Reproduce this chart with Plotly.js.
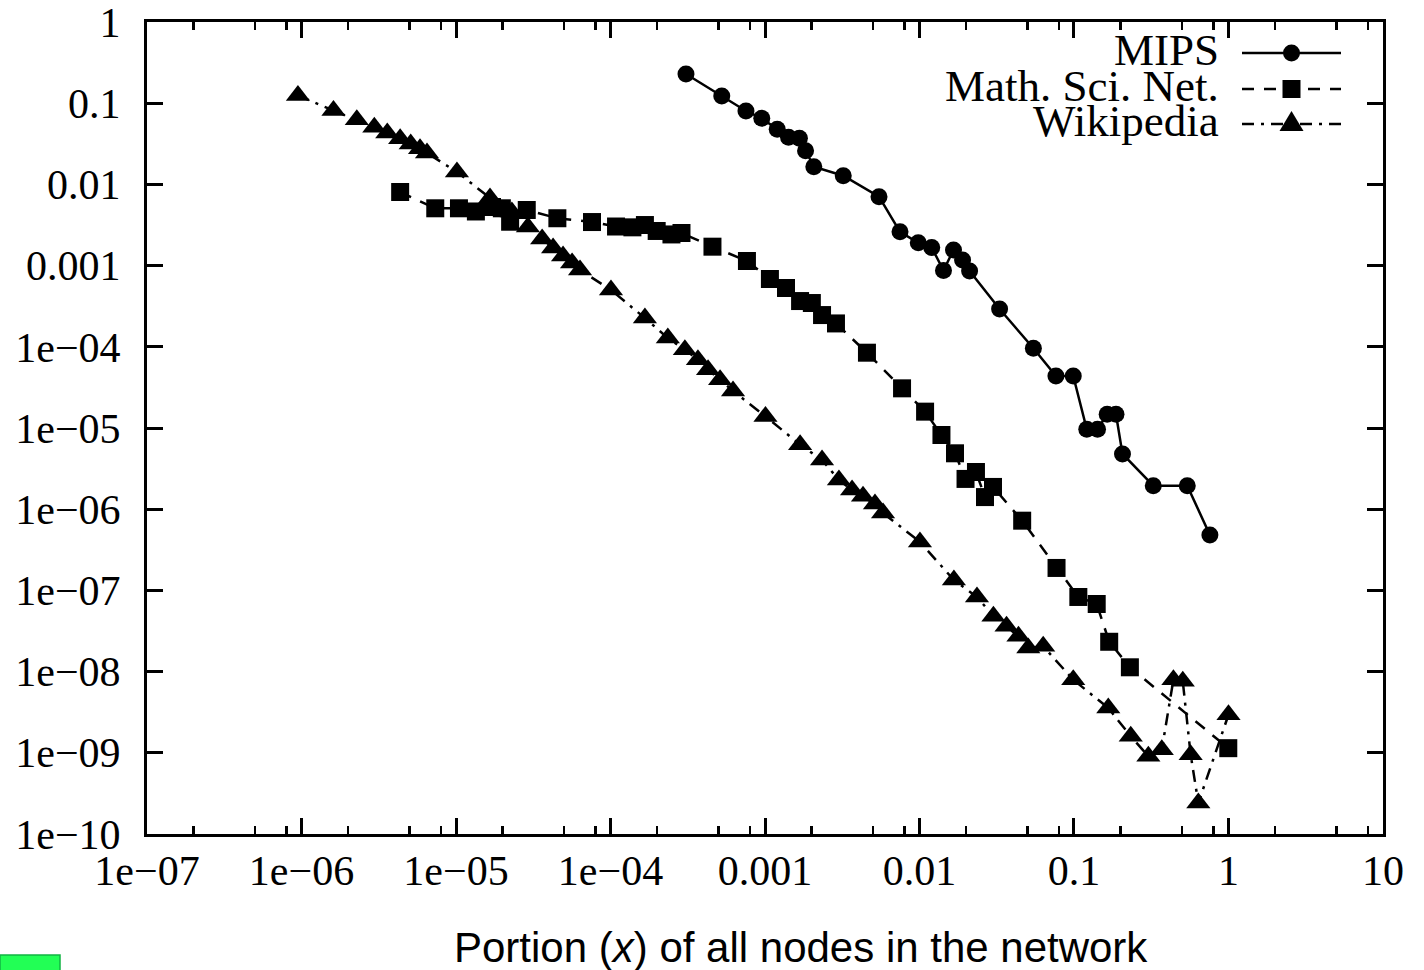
<!DOCTYPE html>
<html>
<head>
<meta charset="utf-8">
<script src="https://cdn.plot.ly/plotly-3.0.1.min.js"></script>
<style>html,body{margin:0;padding:0;background:#fff;}#chart{width:1424px;height:970px;}</style>
</head>
<body>
<div id="chart"></div>
<script>
// ---- data ----
const seriesNames = ["MIPS", "Math. Sci. Net.", "Wikipedia"];

const mipsX = [3.08e-4, 5.25e-4, 7.53e-4, 9.53e-4, 1.20e-3, 1.42e-3, 1.67e-3, 1.83e-3, 2.07e-3, 3.21e-3,
  5.47e-3, 7.48e-3, 9.82e-3, 0.0120, 0.0143, 0.0166, 0.0190, 0.0211, 0.0330, 0.0546,
  0.0764, 0.0989, 0.121, 0.142, 0.164, 0.187, 0.206, 0.326, 0.541, 0.758];
const mipsY = [0.229, 0.123, 0.0802, 0.0652, 0.0477, 0.038, 0.037, 0.026, 0.0165, 0.0128,
  0.00706, 0.00261, 0.00191, 0.00167, 8.7e-4, 0.00156, 0.00117, 8.58e-4, 2.92e-4, 9.59e-5,
  4.37e-5, 4.37e-5, 9.64e-6, 9.64e-6, 1.475e-5, 1.475e-5, 4.79e-6, 1.95e-6, 1.95e-6, 4.81e-7];

const mathX = [4.35e-6, 7.34e-6, 1.045e-5, 1.345e-5, 1.71e-5, 1.98e-5, 2.24e-5, 2.87e-5, 4.53e-5, 7.59e-5,
  1.086e-4, 1.386e-4, 1.67e-4, 1.99e-4, 2.48e-4, 2.88e-4, 4.57e-4, 7.64e-4, 1.076e-3, 1.368e-3,
  1.687e-3, 2.01e-3, 2.34e-3, 2.88e-3, 4.57e-3, 7.71e-3, 0.01087, 0.01387, 0.01698, 0.01986,
  0.0232, 0.02655, 0.0299, 0.0462, 0.0771, 0.1067, 0.1403, 0.169, 0.230, 0.997];
const mathY = [8.06e-3, 5.08e-3, 5.08e-3, 4.64e-3, 5.27e-3, 5.08e-3, 3.47e-3, 4.84e-3, 3.83e-3, 3.44e-3,
  3.03e-3, 2.96e-3, 3.16e-3, 2.67e-3, 2.42e-3, 2.52e-3, 1.71e-3, 1.14e-3, 6.84e-4, 5.30e-4,
  3.66e-4, 3.46e-4, 2.46e-4, 1.94e-4, 8.46e-5, 3.08e-5, 1.59e-5, 8.2e-6, 4.88e-6, 2.36e-6,
  2.87e-6, 1.41e-6, 1.88e-6, 7.22e-7, 1.89e-7, 8.3e-8, 6.8e-8, 2.33e-8, 1.13e-8, 1.14e-9];

const wikiX = [9.48e-7, 1.61e-6, 2.28e-6, 2.96e-6, 3.59e-6, 4.35e-6, 5.09e-6, 5.85e-6, 6.49e-6, 1.014e-5,
  1.66e-5, 2.30e-5, 2.92e-5, 3.61e-5, 4.25e-5, 4.93e-5, 5.64e-5, 6.35e-5, 1.007e-4, 1.67e-4,
  2.35e-4, 3.03e-4, 3.68e-4, 4.28e-4, 5.12e-4, 6.21e-4, 1.007e-3, 1.687e-3, 2.34e-3, 3.01e-3,
  3.66e-3, 4.31e-3, 5.15e-3, 5.81e-3, 0.01007, 0.0167, 0.02355, 0.0301, 0.0366, 0.0437,
  0.0506, 0.0632, 0.0989, 0.1667, 0.233, 0.303, 0.370, 0.440, 0.506, 0.569, 0.638, 1.0];
const wikiY = [0.1244, 0.0813, 0.0626, 0.0505, 0.0430, 0.0366, 0.0315, 0.0275, 0.0244, 0.01422,
  6.80e-3, 4.57e-3, 2.99e-3, 2.13e-3, 1.65e-3, 1.31e-3, 1.08e-3, 8.83e-4, 5.01e-4, 2.26e-4,
  1.28e-4, 9.2e-5, 6.94e-5, 5.22e-5, 3.94e-5, 2.86e-5, 1.39e-5, 6.23e-6, 4.04e-6, 2.29e-6,
  1.72e-6, 1.44e-6, 1.16e-6, 8.98e-7, 3.95e-7, 1.34e-7, 8.3e-8, 4.8e-8, 3.61e-8, 2.72e-8,
  1.95e-8, 2.05e-8, 7.94e-9, 3.56e-9, 1.60e-9, 9.06e-10, 1.09e-9, 7.94e-9, 7.6e-9, 9.48e-10,
  2.41e-10, 2.94e-9];

const xTickVals = [1e-7, 1e-6, 1e-5, 1e-4, 1e-3, 1e-2, 1e-1, 1, 10];
const xTickText = ["1e\u221207", "1e\u221206", "1e\u221205", "1e\u221204", "0.001", "0.01", "0.1", "1", "10"];
const yTickVals = [1e-10, 1e-9, 1e-8, 1e-7, 1e-6, 1e-5, 1e-4, 1e-3, 1e-2, 1e-1, 1];
const yTickText = ["1e\u221210", "1e\u221209", "1e\u221208", "1e\u221207", "1e\u221206", "1e\u221205", "1e\u221204", "0.001", "0.01", "0.1", "1"];
const xTitle = "Portion (<i>x</i>) of all nodes in the network";

// ---- styling ----
const serif = "Liberation Serif, Times New Roman, serif";
const sans = "Liberation Sans, Arial, sans-serif";
const styles = [
  {symbol: "circle", size: 17, dash: "solid"},
  {symbol: "square", size: 18, dash: "12px,10px"},
  {symbol: "triangle-up", size: 21, dash: "12px,7px,3px,7px"}
];
const xs = [mipsX, mathX, wikiX];
const ys = [mipsY, mathY, wikiY];

const traces = seriesNames.map((n, i) => ({
  type: "scatter", mode: "lines+markers", name: n,
  x: xs[i], y: ys[i],
  line: {color: "#000", width: 2.5, dash: styles[i].dash},
  marker: {color: "#000", symbol: styles[i].symbol, size: styles[i].size, line: {width: 0}},
  showlegend: false, cliponaxis: false
}));

// minor ticks at 2, 5, 8 per decade (as in the reference)
const minorVals = [];
for (let d = -7; d <= 0; d++) [2, 5, 8].forEach(m => minorVals.push(m * Math.pow(10, d)));

// custom legend (text right-aligned, key on the right)
const L = 147, W = 1236, T = 22, H = 812;
const px2x = p => (p - L) / W;
const py2y = p => (T + H - p) / H;
const legendRows = [53, 89, 124];
const keyX0 = px2x(1242), keyX1 = px2x(1341), keyXm = px2x(1291.5), textX = px2x(1221);
const shapes = [];
const annotations = [];
const keyShapes = [
  {type: "circle", x0: -8.5, x1: 8.5, y0: -8.5, y1: 8.5},
  {type: "rect", x0: -9, x1: 9, y0: -9, y1: 9},
  {type: "path", path: "M-12,-7 L12,-7 L0,13 Z"}
];
seriesNames.forEach((n, i) => {
  const yy = py2y(legendRows[i]);
  shapes.push({type: "line", xref: "paper", yref: "paper", x0: keyX0, x1: keyX1, y0: yy, y1: yy,
    line: {color: "#000", width: 2.5, dash: styles[i].dash}});
  const k = Object.assign({xref: "paper", yref: "paper", xsizemode: "pixel", ysizemode: "pixel",
    xanchor: keyXm, yanchor: yy, fillcolor: "#000", line: {width: 0}}, keyShapes[i]);
  shapes.push(k);
  annotations.push({xref: "paper", yref: "paper", x: textX, y: yy + 0.004, xanchor: "right", yanchor: "middle",
    text: n, showarrow: false, font: {family: serif, size: 45, color: "#000"}});
});
annotations.push({xref: "paper", yref: "paper", x: px2x(801), y: py2y(947), xanchor: "center", yanchor: "middle",
  text: xTitle, showarrow: false, font: {family: sans, size: 42, color: "#000"}});
// small green box in the lower-left corner of the reference
shapes.push({type: "rect", xref: "paper", yref: "paper", x0: px2x(0), x1: px2x(60), y0: py2y(955), y1: py2y(971),
  fillcolor: "#22ff55", line: {color: "#12b443", width: 1.5}});

const axisCommon = {
  type: "log", showgrid: false, zeroline: false, showline: true, linecolor: "#000", linewidth: 3,
  mirror: "ticks", ticks: "inside", ticklen: 16, tickwidth: 3, tickcolor: "#000",
  tickmode: "array", ticklabeloverflow: "allow", tickfont: {family: serif, size: 42, color: "#000"}
};

const layout = {
  width: 1424, height: 970,
  margin: {l: L, r: 1424 - L - W, t: T, b: 970 - T - H, pad: 0},
  paper_bgcolor: "#fff", plot_bgcolor: "#fff",
  showlegend: false,
  xaxis: Object.assign({}, axisCommon, {
    range: [-7.0001, 1.0001], tickvals: xTickVals, ticktext: xTickText, ticklabelstandoff: -2,
    minor: {tickmode: "array", tickvals: minorVals, ticks: "inside", ticklen: 8, tickwidth: 2.5, tickcolor: "#000", showgrid: false}
  }),
  yaxis: Object.assign({}, axisCommon, {
    range: [-10.0001, 0.0001], tickvals: yTickVals, ticktext: yTickText, ticklabelstandoff: 15
  }),
  shapes: shapes,
  annotations: annotations
};

Plotly.newPlot("chart", traces, layout, {displayModeBar: false, staticPlot: true});
</script>
</body>
</html>
